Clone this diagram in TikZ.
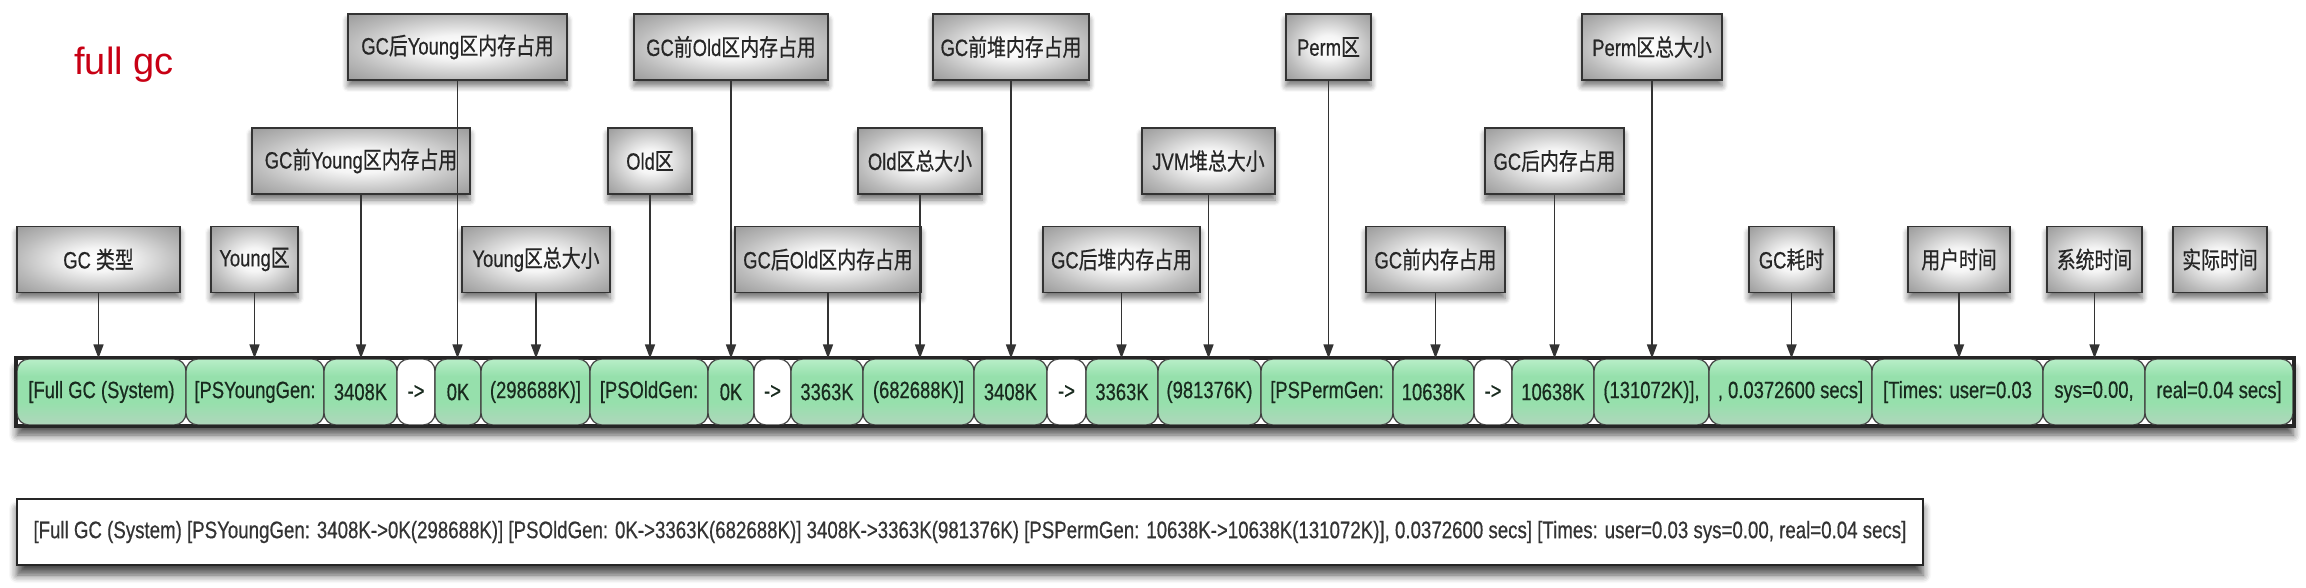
\documentclass[tikz,border=0pt]{standalone}
\usepackage{graphicx}
\usepackage{fontspec}
\setmainfont{Liberation Sans}
\newfontfamily\narrowfont[FakeStretch=0.78,FakeBold=0.5]{Liberation Sans}
\newfontfamily\cjkfont[FakeStretch=0.8,FakeBold=0.6]{Noto Sans CJK SC}
\newcommand\zh[1]{{\cjkfont #1}}
\usetikzlibrary{arrows.meta,shadows.blur}
\definecolor{gcred}{RGB}{200,0,20}
\definecolor{celltop}{RGB}{184,238,200}
\definecolor{cellmid}{RGB}{150,224,172}
\definecolor{cellbot}{RGB}{176,214,188}
\definecolor{celltext}{RGB}{24,42,30}
\pgfdeclareradialshading{boxshade}{\pgfpoint{0bp}{0bp}}{color(0bp)=(white); color(9bp)=(white!96!black); color(25bp)=(black!27); color(36bp)=(black!40); color(50bp)=(black!40)}
\pgfdeclareverticalshading{cellshade}{100bp}{color(0bp)=(cellbot); color(25bp)=(cellbot); color(42bp)=(cellmid); color(62bp)=(cellmid); color(75bp)=(celltop); color(100bp)=(celltop)}
\tikzset{
  txt/.style={font=\narrowfont\fontsize{11.8pt}{13pt}\selectfont},
  lbl/.style={txt, draw=black!80, line width=0.9pt, shading=boxshade,
    minimum height=33pt, inner sep=0pt, text=black!85,
    blur shadow={shadow xshift=0pt, shadow yshift=-3pt, shadow blur radius=3pt, shadow blur steps=6, shadow opacity=55}},
  cellbase/.style={txt, draw=black!75, line width=0.6pt, rounded corners=6pt,
    minimum height=33pt, inner sep=0pt, text=celltext},
  gcell/.style={cellbase, shading=cellshade},
  wcell/.style={cellbase, fill=white},
  conn/.style={draw=black!80, line width=0.8pt, -{Triangle[length=7pt,width=5pt]}},
}
\begin{document}
\begin{tikzpicture}[x=0.5pt,y=-0.5pt]
\useasboundingbox (0,0) rectangle (2306,588);

\node[anchor=base west, inner sep=0pt, text=gcred, font=\fontsize{19pt}{22pt}\selectfont] (title) at (74,75) {full gc};

% row 1 labels
\node[lbl, minimum width=219*0.5pt] (a1) at (457.5,47) {GC\zh{后}Young\zh{区内存占用}};
\node[lbl, minimum width=194*0.5pt] (a2) at (731,47) {GC\zh{前}Old\zh{区内存占用}};
\node[lbl, minimum width=156*0.5pt] (a3) at (1011,47) {GC\zh{前堆内存占用}};
\node[lbl, minimum width=85*0.5pt] (a4) at (1328.5,47) {Perm\zh{区}};
\node[lbl, minimum width=140*0.5pt] (a5) at (1652,47) {Perm\zh{区总大小}};
% row 2 labels
\node[lbl, minimum width=218*0.5pt] (b1) at (361,161) {GC\zh{前}Young\zh{区内存占用}};
\node[lbl, minimum width=84*0.5pt] (b2) at (650,161) {Old\zh{区}};
\node[lbl, minimum width=124*0.5pt] (b3) at (920,161) {Old\zh{区总大小}};
\node[lbl, minimum width=133*0.5pt] (b4) at (1208.5,161) {JVM\zh{堆总大小}};
\node[lbl, minimum width=139*0.5pt] (b5) at (1554.5,161) {GC\zh{后内存占用}};
% row 3 labels
\node[lbl, minimum width=163*0.5pt] (d1) at (98.5,259.5) {GC \zh{类型}};
\node[lbl, minimum width=87*0.5pt] (d2) at (254.5,259.5) {Young\zh{区}};
\node[lbl, minimum width=148*0.5pt] (d3) at (536,259.5) {Young\zh{区总大小}};
\node[lbl, minimum width=186*0.5pt] (d4) at (828,259.5) {GC\zh{后}Old\zh{区内存占用}};
\node[lbl, minimum width=157*0.5pt] (d5) at (1121.5,259.5) {GC\zh{后堆内存占用}};
\node[lbl, minimum width=139*0.5pt] (d6) at (1435.5,259.5) {GC\zh{前内存占用}};
\node[lbl, minimum width=85*0.5pt] (d7) at (1791.5,259.5) {GC\zh{耗时}};
\node[lbl, minimum width=102*0.5pt] (d8) at (1959,259.5) {\zh{用户时间}};
\node[lbl, minimum width=95*0.5pt] (d9) at (2094.5,259.5) {\zh{系统时间}};
\node[lbl, minimum width=94*0.5pt] (d10) at (2220,259.5) {\zh{实际时间}};

% bar
\node[draw=black!85, line width=1.3pt, fill=white, minimum width=2276*0.5pt, minimum height=33pt, inner sep=0pt,
  blur shadow={shadow xshift=0pt, shadow yshift=-5pt, shadow blur radius=4pt, shadow blur steps=6, shadow opacity=70}] (bar) at (1155,392) {};
\node[gcell, minimum width=169*0.5pt] (c1) at (101.5,392) {[Full GC (System)};
\node[gcell, minimum width=138*0.5pt] (c2) at (255,392) {[PSYoungGen:};
\node[gcell, minimum width=73*0.5pt] (c3) at (360.5,392) {3408K};
\node[wcell, minimum width=38*0.5pt] (c4) at (416,392) {->};
\node[gcell, minimum width=46*0.5pt] (c5) at (458,392) {0K};
\node[gcell, minimum width=109*0.5pt] (c6) at (535.5,392) {(298688K)]};
\node[gcell, minimum width=118*0.5pt] (c7) at (649,392) {[PSOldGen:};
\node[gcell, minimum width=46*0.5pt] (c8) at (731,392) {0K};
\node[wcell, minimum width=37*0.5pt] (c9) at (772.5,392) {->};
\node[gcell, minimum width=72*0.5pt] (c10) at (827,392) {3363K};
\node[gcell, minimum width=111*0.5pt] (c11) at (918.5,392) {(682688K)]};
\node[gcell, minimum width=73*0.5pt] (c12) at (1010.5,392) {3408K};
\node[wcell, minimum width=39*0.5pt] (c13) at (1066.5,392) {->};
\node[gcell, minimum width=72*0.5pt] (c14) at (1122,392) {3363K};
\node[gcell, minimum width=103*0.5pt] (c15) at (1209.5,392) {(981376K)};
\node[gcell, minimum width=132*0.5pt] (c16) at (1327,392) {[PSPermGen:};
\node[gcell, minimum width=81*0.5pt] (c17) at (1433.5,392) {10638K};
\node[wcell, minimum width=38*0.5pt] (c18) at (1493,392) {->};
\node[gcell, minimum width=82*0.5pt] (c19) at (1553,392) {10638K};
\node[gcell, minimum width=115*0.5pt] (c20) at (1651.5,392) {(131072K)],};
\node[gcell, minimum width=163*0.5pt] (c21) at (1790.5,392) {, 0.0372600 secs]};
\node[gcell, minimum width=171*0.5pt] (c22) at (1957.5,392) {[Times: user=0.03};
\node[gcell, minimum width=102*0.5pt] (c23) at (2094,392) {sys=0.00,};
\node[gcell, minimum width=148*0.5pt] (c24) at (2219,392) {real=0.04 secs]};
\draw[draw=black!85, line width=1.3pt] (bar.north west) rectangle (bar.south east);

% connectors
\draw[conn] (d1) -- (d1 |- c1.north);
\draw[conn] (d2) -- (d2 |- c2.north);
\draw[conn] (b1) -- (b1 |- c3.north);
\draw[conn] (a1) -- (a1 |- c5.north);
\draw[conn] (d3) -- (d3 |- c6.north);
\draw[conn] (b2) -- (b2 |- c7.north);
\draw[conn] (a2) -- (a2 |- c8.north);
\draw[conn] (d4) -- (d4 |- c10.north);
\draw[conn] (b3) -- (b3 |- c11.north);
\draw[conn] (a3) -- (a3 |- c12.north);
\draw[conn] (d5) -- (d5 |- c14.north);
\draw[conn] (b4) -- (b4 |- c15.north);
\draw[conn] (a4) -- (a4 |- c16.north);
\draw[conn] (d6) -- (d6 |- c17.north);
\draw[conn] (b5) -- (b5 |- c19.north);
\draw[conn] (a5) -- (a5 |- c20.north);
\draw[conn] (d7) -- (d7 |- c21.north);
\draw[conn] (d8) -- (d8 |- c22.north);
\draw[conn] (d9) -- (d9 |- c23.north);

% full log line
\node[draw=black!85, line width=1pt, fill=white, minimum width=1906*0.5pt, minimum height=33pt, inner sep=0pt, text=black!80,
  blur shadow={shadow xshift=0pt, shadow yshift=-5pt, shadow blur radius=4pt, shadow blur steps=6, shadow opacity=70}] (log) at (970,532)
  {\resizebox{936.5pt}{!}{\narrowfont\fontsize{11pt}{13pt}\selectfont [Full GC (System) [PSYoungGen: 3408K->0K(298688K)] [PSOldGen: 0K->3363K(682688K)] 3408K->3363K(981376K) [PSPermGen: 10638K->10638K(131072K)], 0.0372600 secs] [Times: user=0.03 sys=0.00, real=0.04 secs]}};
\end{tikzpicture}
\end{document}
